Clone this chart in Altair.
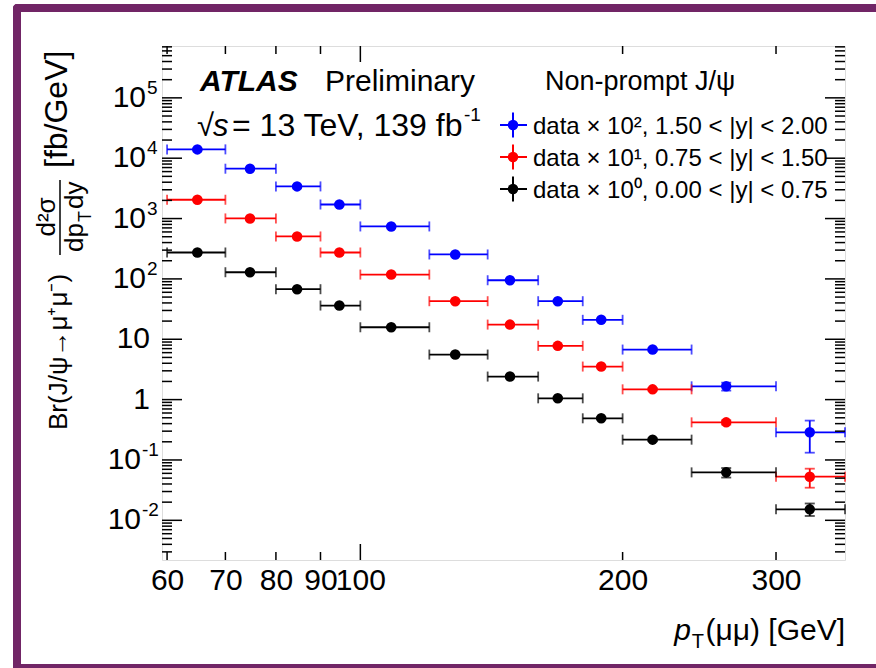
import altair as alt
import pandas as pd

# ---------------- data ----------------
PT_EDGES = [60, 70, 80, 90, 100, 120, 140, 160, 180, 200, 240, 300, 360]
PT_POINTS = [65.0, 74.7, 84.6, 94.6, 108.5, 128.5, 148.5, 168.5, 189.0, 216.5, 263.0, 328.0]

SERIES = ["1.50 < |y| < 2.00", "0.75 < |y| < 1.50", "0.00 < |y| < 0.75"]
COLORS = ["#0000ff", "#ff0000", "#000000"]
LEGEND_LABELS = [
    "data × 10², 1.50 < |y| < 2.00",
    "data × 10¹, 0.75 < |y| < 1.50",
    "data × 10⁰, 0.00 < |y| < 0.75",
]

BLUE_Y = [14000, 6700, 3410, 1710, 740, 254, 95, 42.7, 21.0, 6.75, 1.66, 0.287]
BLUE_LO = [13600, 6500, 3310, 1660, 718, 246, 92, 41.4, 20.3, 6.45, 1.41, 0.132]
BLUE_HI = [14400, 6900, 3510, 1760, 762, 262, 98, 44.0, 21.7, 7.05, 1.91, 0.449]

RED_Y = [2050, 1005, 505, 274, 118, 42.7, 17.5, 7.78, 3.53, 1.48, 0.42, 0.0528]
RED_LO = [1990, 975, 490, 266, 114, 41.4, 17.0, 7.52, 3.40, 1.41, 0.386, 0.0347]
RED_HI = [2110, 1035, 520, 282, 122, 44.0, 18.0, 8.04, 3.66, 1.55, 0.454, 0.0717]

BLACK_Y = [274, 129, 67.5, 36.2, 15.8, 5.58, 2.41, 1.05, 0.49, 0.217, 0.0623, 0.0152]
BLACK_LO = [266, 125, 65.5, 35.1, 15.3, 5.41, 2.33, 1.01, 0.47, 0.206, 0.0511, 0.0118]
BLACK_HI = [282, 133, 69.5, 37.3, 16.3, 5.75, 2.49, 1.09, 0.51, 0.228, 0.0735, 0.0190]

X_TICKS = [60, 70, 80, 90, 100, 200, 300]
X_TICKS_LONG = [100]
X_TICKS_SHORT = [60, 70, 80, 90, 200, 300]
Y_TICKS = [1e-2, 1e-1, 1, 10, 100, 1e3, 1e4, 1e5]
Y_LABEL_BASE = ["10", "10", "1", "10", "10", "10", "10", "10"]
Y_LABEL_EXP = ["-2", "-1", "", "", "2", "3", "4", "5"]

# ---------------- layout constants ----------------
W, H = 683, 514
OX, OY = 162, 46          # plot origin in page pixels
FONT = "Liberation Sans"
PURPLE = "#712566"

rows = []
for name, ys, los, his in [
    (SERIES[0], BLUE_Y, BLUE_LO, BLUE_HI),
    (SERIES[1], RED_Y, RED_LO, RED_HI),
    (SERIES[2], BLACK_Y, BLACK_LO, BLACK_HI),
]:
    for i in range(len(ys)):
        rows.append(dict(series=name, x=PT_POINTS[i], xlo=PT_EDGES[i], xhi=PT_EDGES[i + 1],
                         y=ys[i], ylo=los[i], yhi=his[i]))
df = pd.DataFrame(rows)

X_SCALE = alt.Scale(type="log", domain=[59.2, 360], nice=False)
Y_SCALE = alt.Scale(type="log", domain=[0.0022, 7.23e5], nice=False)

X_AXIS = alt.Axis(values=X_TICKS, format="d", title=None, ticks=False, domain=False, grid=False,
                  labelPadding=5, labelFontSize=30, labelFont=FONT, labelColor="black",
                  labelOverlap=False, labelFlush=False, labelBound=False)
Y_AXIS = alt.Axis(values=Y_TICKS, labels=False, title=None, ticks=False, domain=False, grid=False)

COLOR = alt.Color("series:N", scale=alt.Scale(domain=SERIES, range=COLORS), legend=None)

base = alt.Chart(df)

hbar = base.mark_rule(strokeWidth=1.8).encode(
    x=alt.X("xlo:Q", scale=X_SCALE, axis=X_AXIS), x2="xhi:Q",
    y=alt.Y("y:Q", scale=Y_SCALE, axis=Y_AXIS), color=COLOR)

hcap = base.transform_fold(["xlo", "xhi"], as_=["edge", "xe"]).mark_tick(
    orient="vertical", size=10, thickness=1.8).encode(
    x=alt.X("xe:Q", scale=X_SCALE, axis=X_AXIS),
    y=alt.Y("y:Q", scale=Y_SCALE, axis=Y_AXIS), color=COLOR)

vbar = base.mark_rule(strokeWidth=1.8).encode(
    x=alt.X("x:Q", scale=X_SCALE, axis=X_AXIS),
    y=alt.Y("ylo:Q", scale=Y_SCALE, axis=Y_AXIS), y2="yhi:Q", color=COLOR)

vcap = base.transform_fold(["ylo", "yhi"], as_=["edge", "ye"]).mark_tick(
    orient="horizontal", size=10, thickness=1.8).encode(
    x=alt.X("x:Q", scale=X_SCALE, axis=X_AXIS),
    y=alt.Y("ye:Q", scale=Y_SCALE, axis=Y_AXIS), color=COLOR)

pts = base.mark_point(filled=True, shape="circle", size=110, opacity=1).encode(
    x=alt.X("x:Q", scale=X_SCALE, axis=X_AXIS),
    y=alt.Y("y:Q", scale=Y_SCALE, axis=Y_AXIS), color=COLOR)

# ---------------- inward frame ticks ----------------
y_major = pd.DataFrame({"v": Y_TICKS})
y_minor = pd.DataFrame({"v": [m * 10.0 ** e for e in range(-3, 6) for m in range(2, 10)
                              if 0.0022 < m * 10.0 ** e < 7.23e5]})
x_long = pd.DataFrame({"v": X_TICKS_LONG})
x_short = pd.DataFrame({"v": X_TICKS_SHORT})

tick_layers = []
for dfv, ln in [(y_major, 20), (y_minor, 10)]:
    for x0, x1 in [(0, ln), (W - ln, W)]:
        tick_layers.append(alt.Chart(dfv).mark_rule(color="black", strokeWidth=1.5).encode(
            y=alt.Y("v:Q", scale=Y_SCALE, axis=Y_AXIS), x=alt.value(x0), x2=alt.value(x1)))
for dfv, ln in [(x_long, 16), (x_short, 8)]:
    for y0, y1 in [(H - ln, H), (0, ln)]:
        tick_layers.append(alt.Chart(dfv).mark_rule(color="black", strokeWidth=1.5).encode(
            x=alt.X("v:Q", scale=X_SCALE, axis=X_AXIS), y=alt.value(y0), y2=alt.value(y1)))

# ---------------- y tick labels with real superscripts ----------------
ylab = pd.DataFrame({"v": Y_TICKS, "b": Y_LABEL_BASE, "e": Y_LABEL_EXP})
groups = [
    (ylab[ylab.e == ""], -12, None),
    (ylab[(ylab.e != "") & (~ylab.e.str.startswith("-"))], -16, -15),
    (ylab[ylab.e.str.startswith("-")], -21, -20),
]
ylabel_layers = []
for g, bx, ex in groups:
    ylabel_layers.append(alt.Chart(g).mark_text(
        font=FONT, fontSize=30, align="right", baseline="middle", color="black").encode(
        y=alt.Y("v:Q", scale=Y_SCALE, axis=Y_AXIS), x=alt.value(bx), text="b:N"))
    if ex is not None:
        ylabel_layers.append(alt.Chart(g).mark_text(
            font=FONT, fontSize=19, align="left", baseline="middle", dy=-10, color="black").encode(
            y=alt.Y("v:Q", scale=Y_SCALE, axis=Y_AXIS), x=alt.value(ex), text="e:N"))

# ---------------- annotations ----------------
def one():
    return alt.Chart(pd.DataFrame({"a": [0]}))

def text(s, x, y, size=30, align="left", weight="normal", style="normal", angle=0, color="black"):
    kw = dict(text=s, font=FONT, fontSize=size, align=align, baseline="alphabetic",
              fontWeight=weight, fontStyle=style, color=color)
    if angle:
        kw["angle"] = angle
    return one().mark_text(**kw).encode(x=alt.value(x - OX), y=alt.value(y - OY))

def rect(x0, x1, y0, y1, **kw):
    return one().mark_rect(color=PURPLE, **kw).encode(
        x=alt.value(x0 - OX), x2=alt.value(x1 - OX), y=alt.value(y0 - OY), y2=alt.value(y1 - OY))

def rule(x0, x1, y0, y1, color="black", sw=1.5):
    return one().mark_rule(color=color, strokeWidth=sw).encode(
        x=alt.value(x0 - OX), x2=alt.value(x1 - OX), y=alt.value(y0 - OY), y2=alt.value(y1 - OY))

annos = [
    # slide frame
    rect(13, 876, 4, 12, cornerRadiusTopLeft=8),
    rect(13, 21, 4, 668, cornerRadiusTopLeft=8),
    rect(13, 876, 664, 668),
    # ATLAS label
    text("ATLAS", 200, 91, weight="bold", style="italic"),
    text("Preliminary", 325, 91),
    text("√", 197, 136, size=31),
    text("s", 213, 136, size=31, style="italic"),
    text("= 13 TeV, 139 fb", 232, 136, size=32),
    text("-1", 464, 121, size=19),
    # legend header
    text("Non-prompt J/ψ", 545, 90, size=27),
    # x title
    text("p", 691, 640, align="right", style="italic"),
    text("T", 704, 648, size=20, align="right"),
    text("(μμ) [GeV]", 845, 640, align="right"),
    # y title (rotated, reads bottom to top)
    text("Br(J/ψ→μ⁺μ⁻)", 67, 430, size=26, angle=270),
    text("[fb/GeV]", 67, 168, size=32, angle=270),
    text("d²σ", 55, 217, size=26, align="center", angle=270),
    rule(60, 60, 180, 255, sw=1.5),
    text("dp", 83, 252, size=26, angle=270),
    text("T", 91, 222, size=18, angle=270),
    text("dy", 83, 209, size=26, angle=270),
]

for i, (lab, col) in enumerate(zip(LEGEND_LABELS, COLORS)):
    yc = 125 + 32 * i
    annos.append(rule(500, 527, yc, yc, color=col, sw=2))
    annos.append(rule(513, 513, yc - 12.5, yc + 12.5, color=col, sw=2))
    annos.append(one().mark_point(filled=True, shape="circle", size=110, opacity=1, color=col).encode(
        x=alt.value(513 - OX), y=alt.value(yc - OY)))
    annos.append(text(lab, 533, yc + 8.5, size=24))

chart = alt.layer(hbar, hcap, vbar, vcap, pts, *tick_layers, *ylabel_layers, *annos).properties(
    width=W, height=H,
    padding={"left": OX, "top": OY, "right": 876 - OX - W, "bottom": 668 - OY - H},
    autosize=alt.AutoSizeParams(type="none"),
).configure_view(stroke="black", strokeWidth=2).configure(background="white")

chart.save("out.html", embed_options={"renderer": "svg", "actions": False})
